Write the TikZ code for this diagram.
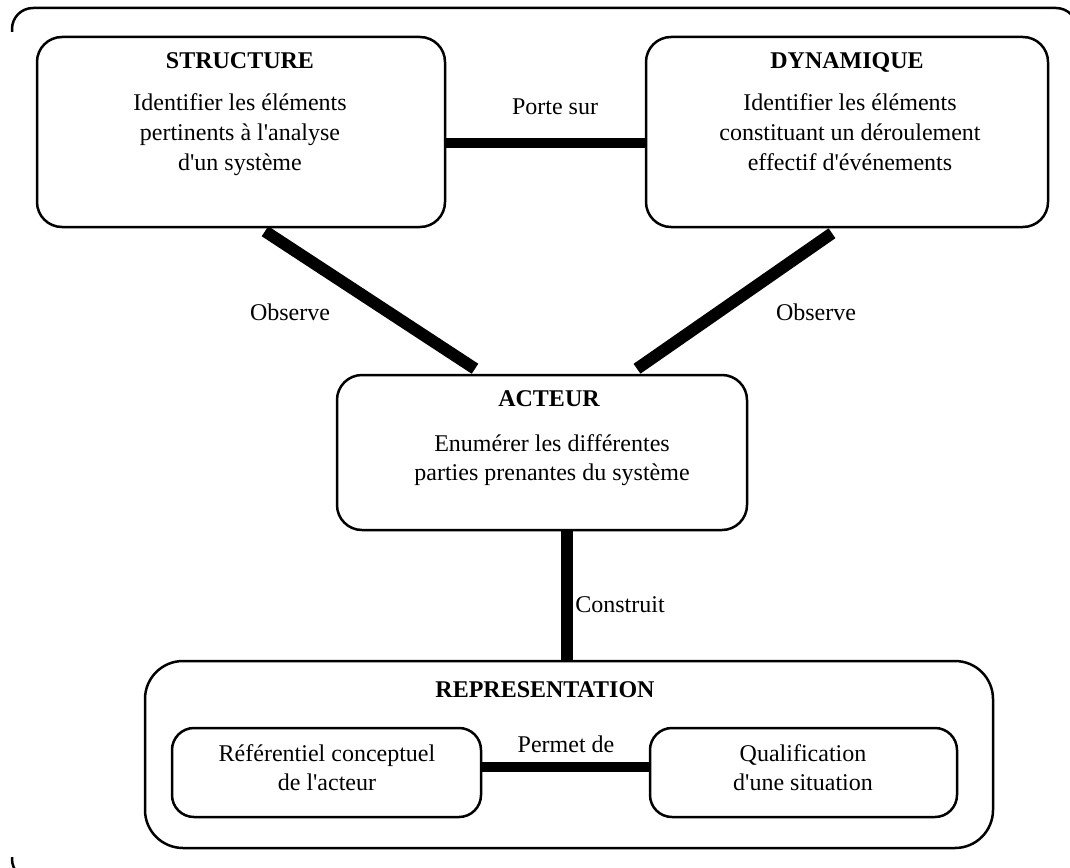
\documentclass[tikz,border=0pt]{standalone}
\usepackage{fontspec}
\setmainfont{Liberation Serif}[Ligatures=TeXOff]
\begin{document}
\begin{tikzpicture}[x=1pt,y=-1pt,
  box/.style={draw, line width=2.5pt, rounded corners=25pt, inner sep=0pt},
  bigbox/.style={draw, line width=2.5pt, rounded corners=38pt, inner sep=0pt},
  smallbox/.style={draw, line width=2.5pt, rounded corners=22pt, inner sep=0pt},
  frame/.style={line width=2.5pt, rounded corners=21pt},
  ttl/.style={font=\bfseries\fontsize{24}{29}\selectfont, inner sep=0pt, anchor=base},
  body/.style={font=\fontsize{24}{29}\selectfont, inner sep=0pt, align=center, anchor=north},
  topbody/.style={font=\fontsize{24}{30}\selectfont, inner sep=0pt, align=center, anchor=north},
  lbl/.style={font=\fontsize{24}{29}\selectfont, inner sep=0pt, anchor=base},
  hconn/.style={line width=10pt},
  dconn/.style={line width=12pt}]
\useasboundingbox (0,0) rectangle (1070,867);
\clip (0,0) rectangle (1070,867);

% outer frame (partially visible)
\draw[frame] (12,32) -- (12,8) -- (1077,8) -- (1077,32);
\draw[frame] (12,857) -- (12,880) -- (60,880);

% STRUCTURE
\node[box, minimum width=408pt, minimum height=190pt] (struct) at (241,132) {};
\node[ttl] (structT) at (240,68) {STRUCTURE};
\node[topbody] (structB) at (240,89) {\strut Identifier les éléments\\pertinents à l'analyse\\d'un système};

% DYNAMIQUE
\node[box, minimum width=402pt, minimum height=190pt] (dyn) at (847,132) {};
\node[ttl] (dynT) at (847,68) {DYNAMIQUE};
\node[topbody] (dynB) at (850,89) {\strut Identifier les éléments\\constituant un déroulement\\effectif d'événements};

% Porte sur
\draw[hconn] ([yshift=-11pt]struct.east) -- ([yshift=-11pt]dyn.west);
\node[lbl] (porte) at (555,114) {Porte sur};

% ACTEUR
\node[box, minimum width=410pt, minimum height=155pt] (act) at (542,452.5) {};
\node[ttl] (actT) at (549,406) {ACTEUR};
\node[body] (actB) at (552,431) {\strut Enumérer les différentes\\parties prenantes du système};

% Observe connectors
\draw[dconn] ([xshift=24pt,yshift=-3pt]struct.south) -- ([xshift=-67pt,yshift=5pt]act.north);
\draw[dconn] ([xshift=-15pt,yshift=-5pt]dyn.south) -- ([xshift=95pt,yshift=5pt]act.north);
\node[lbl] (obs1) at (290,320) {Observe};
\node[lbl] (obs2) at (816,320) {Observe};

% REPRESENTATION
\node[bigbox, minimum width=848pt, minimum height=187pt] (rep) at (569,754.5) {};
\node[ttl] (repT) at (545,697) {REPRESENTATION};

% Construit
\draw[dconn] ([xshift=25pt]act.south) -- ([xshift=-2pt]rep.north);
\node[lbl] (constr) at (620,612) {Construit};

% inner boxes
\node[smallbox, minimum width=309pt, minimum height=89pt] (ref) at (326.5,772.5) {};
\node[body] (refB) at (327,741) {\strut Référentiel conceptuel\\de l'acteur};
\node[smallbox, minimum width=307pt, minimum height=89pt] (qual) at (803.5,772.5) {};
\node[body] (qualB) at (803,741) {\strut Qualification\\d'une situation};

% Permet de
\draw[hconn] ([yshift=5.5pt]ref.east) -- ([yshift=5.5pt]qual.west);
\node[lbl] (permet) at (566,752) {Permet de};
\end{tikzpicture}
\end{document}
